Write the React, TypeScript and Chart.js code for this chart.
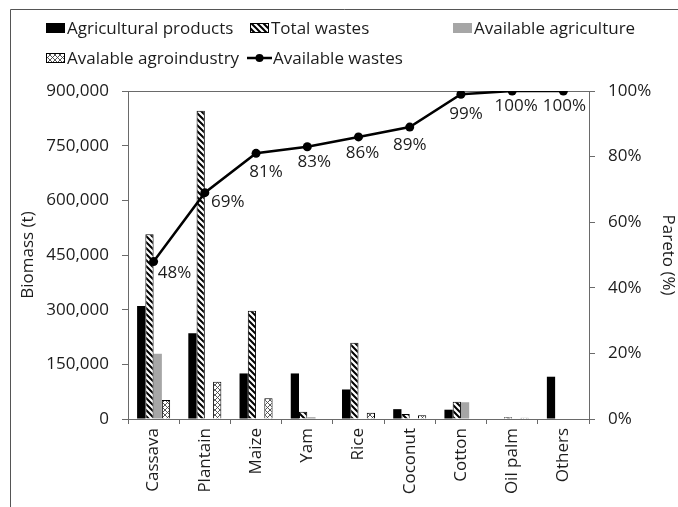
import React, { useEffect, useRef } from "react";
import { Chart, registerables } from "chart.js";

Chart.register(...registerables);

// ---- Data ----
const categories = ["Cassava", "Plantain", "Maize", "Yam", "Rice", "Coconut", "Cotton", "Oil palm", "Others"];
const agriculturalProducts = [310000, 235000, 125000, 125000, 81000, 27000, 25500, null, 116000];
const totalWastes = [507000, 846000, 297000, 20000, 209000, 14000, 47500, 5000, null];
const availableAgriculture = [179000, null, null, 5000, null, null, 46000, null, null];
const availableAgroindustry = [52000, 102000, 57000, null, 17000, 10000, null, 3500, null];
const paretoPercent = [48, 69, 81, 83, 86, 89, 99, 100, 100];

const seriesNames = [
  "Agricultural products",
  "Total wastes",
  "Available agriculture",
  "Avalable agroindustry",
  "Available wastes",
];

const leftMax = 900000;
const leftStep = 150000;
const rightMax = 100;
const rightStep = 20;

// ---- Styles (not data) ----
const FONT_FAMILY = "'Open Sans', sans-serif";
const FONT_SIZE = 17;
const TEXT = "#1c1c1c";
const AXIS = "#6a6a6a";
const FRAME = "#555";
const GRAY = "#a6a6a6";
// per-label nudges of the percentage labels relative to their points
const labelDx = [21, 23, 10, 7, 4, 0, 5, 4, 1];
const labelDy = [11.5, 9, 19, 15, 16, 18, 20, 15, 15];

function makeHatch(ctxDoc: Document): CanvasPattern {
  const c = ctxDoc.createElement("canvas");
  c.width = 6;
  c.height = 6;
  const g = c.getContext("2d")!;
  g.fillStyle = "#fff";
  g.fillRect(0, 0, 6, 6);
  g.strokeStyle = "#000";
  g.lineWidth = 2;
  g.beginPath();
  for (const k of [-6, 0, 6]) {
    g.moveTo(-1, -1 + k);
    g.lineTo(7, 7 + k);
  }
  g.stroke();
  return g.createPattern(c, "repeat")!;
}

function makeCross(ctxDoc: Document): CanvasPattern {
  const c = ctxDoc.createElement("canvas");
  c.width = 5;
  c.height = 5;
  const g = c.getContext("2d")!;
  g.fillStyle = "#fff";
  g.fillRect(0, 0, 5, 5);
  g.strokeStyle = "#444";
  g.lineWidth = 0.9;
  g.beginPath();
  for (const k of [-5, 0, 5]) {
    g.moveTo(-1, -1 + k);
    g.lineTo(6, 6 + k);
    g.moveTo(-1, 6 + k);
    g.lineTo(6, -1 + k);
  }
  g.stroke();
  return g.createPattern(c, "repeat")!;
}

export default function App() {
  const ref = useRef<HTMLCanvasElement>(null);

  useEffect(() => {
    const canvas = ref.current!;
    const hatch = makeHatch(document);
    const cross = makeCross(document);
    const font = { family: FONT_FAMILY, size: FONT_SIZE };

    const decor = {
      id: "decor",
      beforeDatasetsDraw(chart: any) {
        const { ctx, chartArea } = chart;
        ctx.save();
        ctx.strokeStyle = AXIS;
        ctx.lineWidth = 1;
        ctx.beginPath();
        ctx.moveTo(chartArea.left, Math.round(chartArea.top) + 0.5);
        ctx.lineTo(chartArea.right, Math.round(chartArea.top) + 0.5);
        ctx.stroke();
        ctx.restore();
      },
      afterDatasetsDraw(chart: any) {
        const { ctx } = chart;
        const meta = chart.getDatasetMeta(4);
        ctx.save();
        ctx.font = `${FONT_SIZE}px ${FONT_FAMILY}`;
        ctx.fillStyle = TEXT;
        ctx.textAlign = "center";
        ctx.textBaseline = "middle";
        meta.data.forEach((pt: any, i: number) => {
          ctx.fillText(`${paretoPercent[i]}%`, pt.x + labelDx[i], pt.y + labelDy[i]);
        });
        ctx.restore();
      },
      afterDraw(chart: any) {
        const { ctx, width, height } = chart;
        ctx.save();
        // outer frame (left and top edges)
        ctx.strokeStyle = FRAME;
        ctx.lineWidth = 1;
        ctx.beginPath();
        ctx.moveTo(10.5, height);
        ctx.lineTo(10.5, 9.5);
        ctx.lineTo(width, 9.5);
        ctx.stroke();

        // legend
        ctx.font = `${FONT_SIZE}px ${FONT_FAMILY}`;
        ctx.fillStyle = TEXT;
        ctx.textBaseline = "middle";
        ctx.textAlign = "left";
        const fills: any[] = ["#000", hatch, GRAY, cross];
        const borders = [false, true, false, true];
        const items = [
          { x: 46, y: 28, ds: 0 },
          { x: 250, y: 28, ds: 1 },
          { x: 453, y: 28, ds: 2 },
          { x: 46, y: 58, ds: 3 },
        ];
        items.forEach((it) => {
          ctx.fillStyle = fills[it.ds];
          ctx.fillRect(it.x, it.y - 5, 19, 10);
          if (borders[it.ds]) {
            ctx.strokeStyle = "#000";
            ctx.strokeRect(it.x + 0.5, it.y - 4.5, 18, 9);
          }
          ctx.fillStyle = TEXT;
          ctx.fillText(seriesNames[it.ds], it.x + 21, it.y + 1);
        });
        // line legend item
        const lx = 247;
        const ly = 58;
        ctx.strokeStyle = "#000";
        ctx.lineWidth = 2.5;
        ctx.beginPath();
        ctx.moveTo(lx, ly);
        ctx.lineTo(lx + 25, ly);
        ctx.stroke();
        ctx.fillStyle = "#000";
        ctx.beginPath();
        ctx.arc(lx + 12.5, ly, 4, 0, Math.PI * 2);
        ctx.fill();
        ctx.fillStyle = TEXT;
        ctx.fillText(seriesNames[4], lx + 26, ly + 1);
        ctx.restore();
      },
    };

    const chart = new Chart(canvas, {
      type: "bar",
      data: {
        labels: categories,
        datasets: [
          {
            label: seriesNames[0],
            data: agriculturalProducts as any,
            backgroundColor: "#000",
            borderWidth: 0,
            yAxisID: "y",
          },
          {
            label: seriesNames[1],
            data: totalWastes as any,
            backgroundColor: hatch as any,
            borderColor: "#000",
            borderWidth: 1,
            yAxisID: "y",
          },
          {
            label: seriesNames[2],
            data: availableAgriculture as any,
            backgroundColor: GRAY,
            borderWidth: 0,
            yAxisID: "y",
          },
          {
            label: seriesNames[3],
            data: availableAgroindustry as any,
            backgroundColor: cross as any,
            borderColor: "#000",
            borderWidth: 1,
            yAxisID: "y",
          },
          {
            type: "line",
            label: seriesNames[4],
            data: paretoPercent,
            borderColor: "#000",
            backgroundColor: "#000",
            borderWidth: 2.5,
            pointRadius: 4.5,
            pointBackgroundColor: "#000",
            pointBorderWidth: 0,
            tension: 0,
            yAxisID: "y1",
            order: -1,
          } as any,
        ],
      },
      options: {
        responsive: false,
        animation: false,
        maintainAspectRatio: false,
        layout: { padding: { top: 91, left: 0, right: 0, bottom: 0 } },
        datasets: {
          bar: { categoryPercentage: 0.645, barPercentage: 1.0 },
        },
        plugins: {
          legend: { display: false },
          tooltip: { enabled: false },
        },
        scales: {
          x: {
            offset: true,
            grid: { drawOnChartArea: false, offset: true, tickLength: 5, color: AXIS },
            border: { color: AXIS, width: 1 },
            ticks: {
              minRotation: 90,
              maxRotation: 90,
              autoSkip: false,
              padding: 4,
              font,
              color: TEXT,
            },
            afterFit: (s: any) => {
              s.height = 88;
            },
          },
          y: {
            position: "left",
            min: 0,
            max: leftMax,
            grid: { drawOnChartArea: false, tickLength: 6, color: AXIS },
            border: { color: AXIS, width: 1 },
            ticks: {
              stepSize: leftStep,
              padding: 13,
              font,
              color: TEXT,
              callback: (v: any) => Number(v).toLocaleString("en-US"),
            },
            title: {
              display: true,
              text: "Biomass (t)",
              font,
              color: TEXT,
              padding: { top: 18, bottom: 0 },
            },
            afterFit: (s: any) => {
              s.width = 128;
            },
          },
          y1: {
            position: "right",
            min: 0,
            max: rightMax,
            grid: { drawOnChartArea: false, tickLength: 6, color: AXIS },
            border: { color: AXIS, width: 1 },
            ticks: {
              stepSize: rightStep,
              padding: 13,
              font,
              color: TEXT,
              callback: (v: any) => `${v}%`,
            },
            title: {
              display: true,
              text: "Pareto (%)",
              font,
              color: TEXT,
              padding: { top: 0, bottom: 0 },
            },
            afterFit: (s: any) => {
              s.width = 89;
            },
          },
        },
      } as any,
      plugins: [decor],
    });

    return () => chart.destroy();
  }, []);

  return (
    <div style={{ position: "fixed", left: 0, top: 0, width: 678, height: 507, background: "#fff" }}>
      <canvas ref={ref} width={678} height={507} style={{ display: "block" }} />
    </div>
  );
}
